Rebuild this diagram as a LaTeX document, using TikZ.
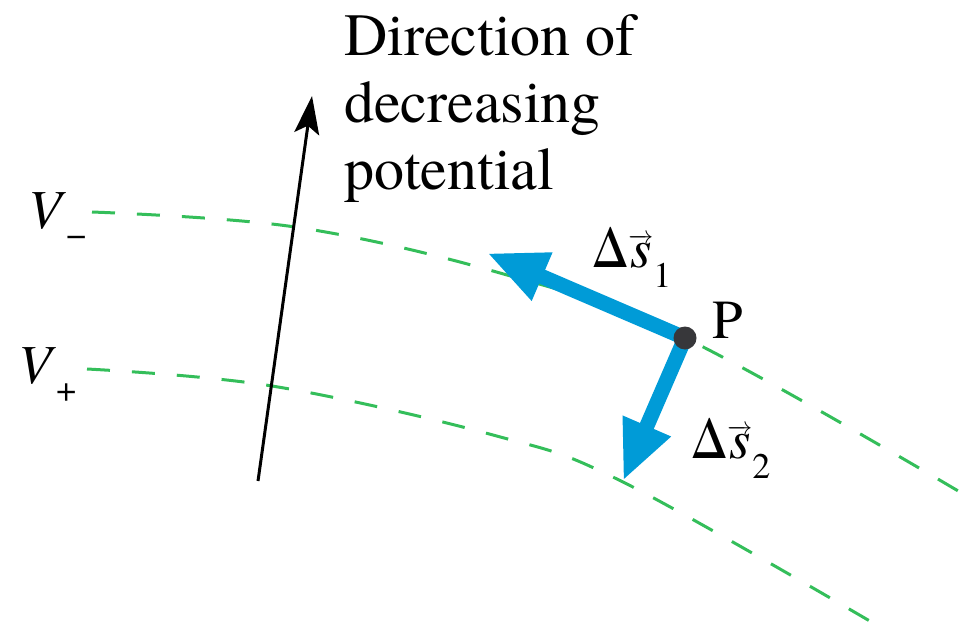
\documentclass[tikz,border=0pt]{standalone}
\usepackage{fontspec}
\setmainfont{texgyretermes}[Extension=.otf, UprightFont=*-regular, ItalicFont=*-italic, BoldFont=*-bold, BoldItalicFont=*-bolditalic]
\usetikzlibrary{arrows.meta}
\definecolor{eqgreen}{RGB}{52,190,90}
\definecolor{vecblue}{RGB}{0,155,215}
\definecolor{dotgray}{RGB}{55,55,58}
\newcommand{\vecs}{\ensuremath{\overrightarrow{\mbox{\itshape s}}}}
\newcommand{\subtxt}[2]{\raisebox{#1}{\fontsize{36}{36}\selectfont #2}}
\tikzset{
  equip/.style={draw=eqgreen, line width=3pt, dash pattern=on 23pt off 22pt},
  dispvec/.style={draw=vecblue, line width=15pt, -{Triangle[length=60pt,width=48pt]}},
  lbl/.style={inner sep=0pt, anchor=base west, font=\fontsize{55}{60}\selectfont},
  headline/.style={inner sep=0pt, anchor=base west, font=\fontsize{60}{66}\selectfont},
}
\begin{document}
\begin{tikzpicture}[x=1pt,y=-1pt]
\useasboundingbox (0,0) rectangle (965,631);
% equipotential lines
\draw[equip] plot[smooth, tension=0.6] coordinates {(92,212) (295,227) (500,273) (685,338) (965,495)};
\draw[equip] plot[smooth, tension=0.6] coordinates {(87,369) (272,386) (493,435) (623,482) (880,627)};
% direction arrow
\coordinate (dstart) at (258,481);
\coordinate (dtip) at (312,96);
\draw[line width=3pt, -{Stealth[length=38pt,width=25pt,inset=8pt]}] (dstart) -- (dtip);
% point P and displacement vectors
\coordinate (P) at (685,338);
\coordinate (t1) at (487,253);
\coordinate (t2) at (623,481);
\draw[dispvec] (P) -- (t1);
\draw[dispvec] (P) -- (t2);
\node[circle, fill=dotgray, minimum size=23pt, inner sep=0pt] (dot) at (P) {};
% labels
\node[lbl] (lP) at (712,338) {P};
\node[lbl] (ds1) at (592,267) {Δ\vecs\subtxt{-0.38em}{1}};
\node[lbl] (ds2) at (691,458) {Δ\vecs\subtxt{-0.38em}{2}};
\node[lbl] (vm) at (28,228) {\textit{V}\subtxt{-0.33em}{−}};
\node[lbl] (vp) at (18,383) {\textit{V}\subtxt{-0.34em}{+}};
\node[headline] (txt1) at (344,56) {Direction of};
\node[headline] (txt2) at (344,123) {decreasing};
\node[headline] (txt3) at (344,189) {potential};
\end{tikzpicture}
\end{document}
